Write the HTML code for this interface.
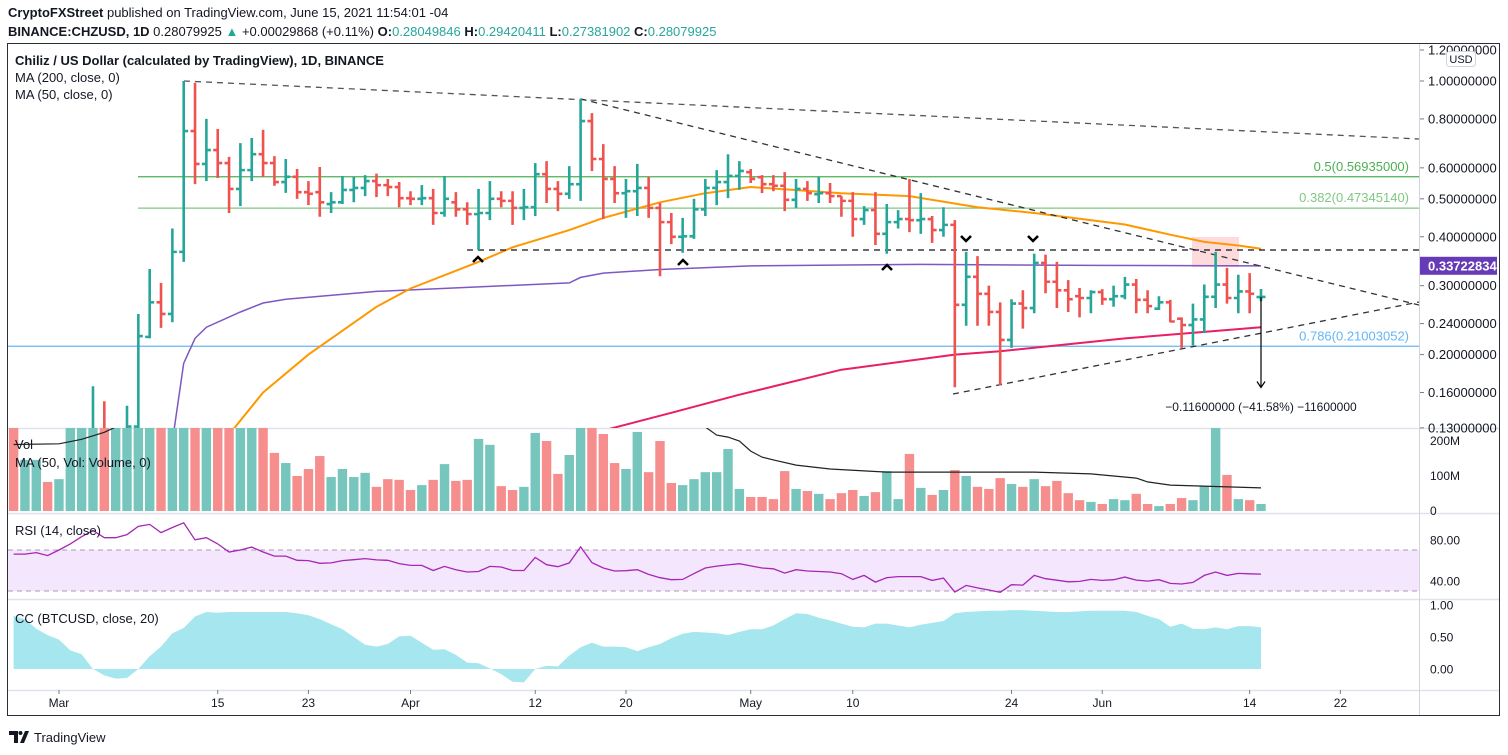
<!DOCTYPE html>
<html><head><meta charset="utf-8">
<style>
html,body{margin:0;padding:0;background:#fff;}
svg{display:block;font-family:"Liberation Sans",sans-serif;}
</style></head>
<body>
<svg id="chart" width="1508" height="755" viewBox="0 0 1508 755" xmlns="http://www.w3.org/2000/svg">
<defs>
<clipPath id="cpPrice"><rect x="8" y="44" width="1411" height="384"/></clipPath>
<clipPath id="cpVol"><rect x="8" y="428" width="1411" height="85"/></clipPath>
<clipPath id="cpRsi"><rect x="8" y="514" width="1411" height="86"/></clipPath>
<clipPath id="cpCc"><rect x="8" y="600" width="1411" height="90"/></clipPath>
</defs>
<rect x="0" y="0" width="1508" height="755" fill="#fff"/>
<text x="8" y="17" font-size="13" fill="#131722"><tspan font-weight="bold">CryptoFXStreet</tspan> published on TradingView.com, June 15, 2021 11:54:01 -04</text>
<text x="8" y="36" font-size="13" fill="#131722"><tspan font-weight="bold">BINANCE:CHZUSD, 1D</tspan> 0.28079925 <tspan fill="#26a69a">▲</tspan> +0.00029868 (+0.11%) <tspan font-weight="bold">O:</tspan><tspan fill="#26a69a">0.28049846</tspan> <tspan font-weight="bold">H:</tspan><tspan fill="#26a69a">0.29420411</tspan> <tspan font-weight="bold">L:</tspan><tspan fill="#26a69a">0.27381902</tspan> <tspan font-weight="bold">C:</tspan><tspan fill="#26a69a">0.28079925</tspan></text>
<rect x="7.5" y="43.5" width="1492" height="672" fill="none" stroke="#2a2e39" stroke-width="1"/>
<g id="grid">
<line x1="8" y1="428.5" x2="1499" y2="428.5" stroke="#e0e3eb" stroke-width="1.5"/>
<line x1="8" y1="513.5" x2="1499" y2="513.5" stroke="#e0e3eb" stroke-width="1.5"/>
<line x1="8" y1="599.5" x2="1499" y2="599.5" stroke="#e0e3eb" stroke-width="1.5"/>
<line x1="8" y1="690.5" x2="1499" y2="690.5" stroke="#e0e3eb" stroke-width="1.5"/>
<line x1="1419.5" y1="44" x2="1419.5" y2="715" stroke="#d1d4dc" stroke-width="1"/>
</g>
<g id="gPrice" clip-path="url(#cpPrice)"></g>
<g id="gVol" clip-path="url(#cpVol)"></g>
<g id="gRsi" clip-path="url(#cpRsi)"></g>
<g id="gCc" clip-path="url(#cpCc)"></g>
<g id="gAxis"></g>
<text x="15" y="65" font-size="13" font-weight="bold" fill="#131722">Chiliz / US Dollar (calculated by TradingView), 1D, BINANCE</text>
<text x="15" y="82" font-size="13" fill="#131722">MA (200, close, 0)</text>
<text x="15" y="99" font-size="13" fill="#131722">MA (50, close, 0)</text>
<text x="15" y="449" font-size="13" fill="#131722">Vol</text>
<text x="15" y="467" font-size="13" fill="#131722">MA (50, Vol: Volume, 0)</text>
<text x="15" y="535" font-size="13" fill="#131722">RSI (14, close)</text>
<text x="15" y="623" font-size="13" fill="#131722">CC (BTCUSD, close, 20)</text>
<g><rect x="1446.5" y="51.5" width="29" height="15" rx="3" fill="#fff" stroke="#d1d4dc"/><text x="1461" y="63" font-size="11" text-anchor="middle" fill="#131722">USD</text></g>
<g><path d="M9 731 h9 v12 h-4 v-8 h-5z M20 743 l5 -12 h4 l-5 12z" fill="#131722"/><circle cx="20.5" cy="733" r="2" fill="#131722"/><text x="34" y="742" font-size="13" fill="#131722">TradingView</text></g>
</svg>
<script>
// ---------- data ----------
const opens=[0.10,0.095,0.105,0.11,0.105,0.11,0.12,0.118,0.125,0.112,0.118,0.131,0.222,0.272,0.254,0.366,0.745,0.614,0.666,0.617,0.53,0.592,0.65,0.617,0.552,0.569,0.52,0.52,0.485,0.49,0.527,0.533,0.555,0.542,0.536,0.502,0.50,0.502,0.46,0.49,0.47,0.457,0.46,0.50,0.494,0.474,0.476,0.578,0.53,0.515,0.545,0.79,0.632,0.562,0.517,0.523,0.533,0.474,0.436,0.40,0.401,0.47,0.533,0.552,0.572,0.585,0.568,0.545,0.54,0.497,0.53,0.514,0.517,0.508,0.494,0.444,0.468,0.407,0.436,0.444,0.441,0.444,0.416,0.429,0.268,0.316,0.286,0.257,0.218,0.27,0.263,0.343,0.307,0.292,0.282,0.279,0.289,0.277,0.282,0.302,0.276,0.262,0.272,0.247,0.238,0.246,0.281,0.302,0.279,0.29,0.2805];
const highs=[0.105,0.11,0.115,0.115,0.12,0.125,0.128,0.166,0.152,0.125,0.148,0.254,0.331,0.305,0.42,1.0,0.99,0.80,0.754,0.64,0.694,0.715,0.75,0.643,0.632,0.596,0.555,0.603,0.52,0.572,0.569,0.575,0.58,0.562,0.552,0.523,0.542,0.53,0.572,0.52,0.49,0.53,0.555,0.523,0.523,0.53,0.617,0.624,0.555,0.606,0.90,0.828,0.69,0.606,0.562,0.614,0.569,0.488,0.46,0.447,0.50,0.562,0.592,0.65,0.624,0.596,0.575,0.575,0.585,0.562,0.555,0.569,0.549,0.508,0.52,0.479,0.52,0.485,0.468,0.562,0.517,0.452,0.476,0.441,0.366,0.357,0.30,0.272,0.277,0.292,0.362,0.36,0.345,0.31,0.296,0.292,0.294,0.30,0.316,0.312,0.292,0.282,0.276,0.249,0.27,0.302,0.366,0.333,0.32,0.323,0.2942];
const lows=[0.088,0.09,0.10,0.10,0.10,0.105,0.11,0.105,0.10,0.105,0.105,0.125,0.22,0.234,0.242,0.345,0.545,0.555,0.565,0.46,0.479,0.555,0.569,0.54,0.518,0.50,0.482,0.45,0.46,0.485,0.49,0.508,0.505,0.508,0.476,0.482,0.482,0.429,0.45,0.45,0.429,0.37,0.441,0.476,0.429,0.441,0.452,0.488,0.465,0.50,0.494,0.589,0.444,0.488,0.447,0.452,0.447,0.317,0.383,0.364,0.395,0.452,0.482,0.502,0.527,0.549,0.517,0.523,0.465,0.474,0.494,0.488,0.488,0.45,0.40,0.429,0.381,0.362,0.42,0.411,0.407,0.386,0.40,0.165,0.237,0.237,0.237,0.167,0.208,0.233,0.255,0.287,0.263,0.257,0.249,0.255,0.268,0.265,0.277,0.255,0.255,0.26,0.242,0.208,0.211,0.227,0.263,0.27,0.255,0.255,0.2738];
const closes=[0.095,0.105,0.11,0.105,0.11,0.12,0.125,0.125,0.112,0.118,0.131,0.223,0.272,0.254,0.366,0.745,0.614,0.666,0.617,0.53,0.592,0.65,0.617,0.552,0.569,0.52,0.515,0.49,0.49,0.527,0.533,0.555,0.542,0.536,0.502,0.50,0.502,0.46,0.50,0.47,0.457,0.46,0.50,0.494,0.474,0.476,0.578,0.53,0.515,0.545,0.79,0.632,0.562,0.517,0.523,0.533,0.474,0.436,0.40,0.401,0.47,0.533,0.552,0.572,0.589,0.562,0.545,0.54,0.497,0.53,0.517,0.517,0.508,0.494,0.444,0.468,0.407,0.436,0.444,0.441,0.444,0.416,0.429,0.268,0.316,0.286,0.257,0.218,0.27,0.263,0.343,0.307,0.292,0.277,0.279,0.289,0.277,0.282,0.302,0.276,0.266,0.272,0.243,0.238,0.246,0.281,0.302,0.279,0.29,0.286,0.2808];
const volumes=[260,146,146,83,91,300,350,400,300,280,300,500,450,350,400,800,700,400,350,300,300,280,260,166,137,100,120,157,97,120,97,109,69,91,89,60,74,89,134,86,89,206,189,71,60,69,223,200,106,160,400,300,220,137,120,226,111,200,80,74,91,111,111,177,63,40,40,34,114,63,57,49,34,51,60,43,54,114,34,163,66,46,60,117,100,69,63,94,77,69,91,71,86,51,31,26,20,34,31,49,20,14,20,37,31,71,237,103,34,31,20];
const ma50Idx=[19,22,26,32,35,41,44,49,52,57,61,65,73,79,85,90,98,102,105,108,110];
const ma50Val=[0.125,0.16,0.2,0.265,0.295,0.345,0.376,0.416,0.447,0.49,0.517,0.536,0.517,0.508,0.476,0.46,0.43,0.405,0.388,0.38,0.373];
const ma200Idx=[52,58,64,73,83,87,98,110];
const ma200Val=[0.128,0.142,0.158,0.183,0.2,0.204,0.22,0.235];
const purpleIdx=[14,15,16,17,20,22,24,32,49,50,52,57,65,80,95,110];
const purpleVal=[0.12,0.19,0.22,0.235,0.257,0.271,0.277,0.29,0.305,0.315,0.323,0.33,0.337,0.34,0.338,0.337];
const volMaIdx=[0,4,6,8,9,20,40,55,61,62,63,64,65,66,67,69,72,77,90,95,99,100,102,110];
const volMaVal=[190,192,205,225,240,400,420,330,240,217,211,200,171,154,146,131,120,111,111,106,94,83,74,66];
const rsiVals=[66,66,67.5,64.5,70,76,83,89,82,82,85,93,95,87,92,96.5,80,82,76,68,70,72.8,68,64,64,60,59.7,57,57.4,59.7,60.5,61.6,60.3,60,56.7,55,55,50,54,50.7,48.5,49,54,53.4,50,50,62.7,55.7,53.7,57.4,73,57.7,52.4,49.5,49.8,50.8,46.2,43,41,41.3,47,52.4,54.3,55.5,56.6,54.5,52.4,51.7,47.5,50.8,49.5,49,48.5,46.9,41.3,45.2,38.7,43,44,44,44,40.3,42.6,29,35.5,33,31,28.7,36.1,35.8,45.2,42,40.5,39,39.4,41.3,40.3,41,43.6,40.6,39.7,41,37.4,36.8,38.4,45.2,48.5,45.2,47.2,46.8,46.5];
const ccVals=[0.83,0.78,0.63,0.53,0.46,0.29,0.23,0.0,-0.1,-0.15,-0.14,0.0,0.2,0.35,0.56,0.64,0.82,0.89,0.88,0.89,0.89,0.89,0.89,0.89,0.89,0.87,0.84,0.78,0.7,0.62,0.5,0.38,0.35,0.39,0.51,0.52,0.41,0.3,0.31,0.22,0.1,0.09,0.01,-0.08,-0.2,-0.21,0.0,0.05,0.04,0.21,0.34,0.41,0.35,0.35,0.34,0.28,0.34,0.39,0.48,0.55,0.58,0.57,0.56,0.53,0.58,0.62,0.62,0.68,0.78,0.87,0.86,0.8,0.76,0.71,0.66,0.65,0.71,0.71,0.68,0.65,0.69,0.72,0.75,0.87,0.89,0.9,0.91,0.91,0.92,0.92,0.91,0.9,0.89,0.89,0.9,0.91,0.91,0.91,0.91,0.89,0.83,0.78,0.66,0.71,0.63,0.62,0.65,0.62,0.67,0.67,0.65];
const priceTicks=[1.2,1.0,0.8,0.6,0.5,0.4,0.3,0.24,0.2,0.16,0.13];
const volTicks=[200,100,0];
const volTickLabels=["200M","100M","0"];
const rsiTicks=[80,40];
const ccTicks=[1.0,0.5,0.0];
const timeLabels=["Mar","15","23","Apr","12","20","May","10","24","Jun","14","22"];
const timeIdx=[4,18,26,35,46,54,65,74,88,96,109,117];
const fibVals=[0.56935,0.4734514,0.21003052];
const fibLabels=["0.5(0.56935000)","0.382(0.47345140)","0.786(0.21003052)"];
const lastMaVal=0.33722834;
const measureFrom=0.2808, measureTo=0.1648;
// ---------- axes ----------
const NS="http://www.w3.org/2000/svg";
const xi=i=>13.6+11.34*i;
const py=p=>81-170*Math.log(p);
const vy=v=>511-0.35*v;
const ry=v=>550-(v-70)*1.025;
const cy=v=>669-64*v;
function mk(tag,attrs,parent){const e=document.createElementNS(NS,tag);for(const k in attrs)e.setAttribute(k,attrs[k]);parent.appendChild(e);return e;}
const gP=document.getElementById('gPrice'),gV=document.getElementById('gVol'),gR=document.getElementById('gRsi'),gC=document.getElementById('gCc'),gA=document.getElementById('gAxis');
const G="#26a69a",R="#ef5350";
function lineFrom(idx,val,f){return idx.map((i,k)=>(k?'L':'M')+xi(i).toFixed(1)+','+f(val[k]).toFixed(1)).join(' ');}

// fib lines
const fibCols=["#4caf50","#81c784","#64b5f6"];
const fibStart=[138,138,8];
fibVals.forEach((v,k)=>{
  const l=mk('line',{x1:fibStart[k],x2:1419,y1:py(v),y2:py(v),stroke:fibCols[k],'stroke-width':1.2},gP);
  
  
  const t=mk('text',{x:1409,y:py(v)-6,'font-size':13,'text-anchor':'end',fill:fibCols[k]},gP);
  t.textContent=fibLabels[k];
  
  
});
// pink highlight
const hl=mk('rect',{x:1192,y:237,width:47,height:30,fill:'#f23645','fill-opacity':0.18},gP);


// MAs
const pu=mk('path',{d:lineFrom(purpleIdx,purpleVal,py),fill:'none',stroke:'#7e57c2','stroke-width':1.5},gP);


const or=mk('path',{d:lineFrom(ma50Idx,ma50Val,py),fill:'none',stroke:'#ff9800','stroke-width':2},gP);


const pk=mk('path',{d:lineFrom(ma200Idx,ma200Val,py),fill:'none',stroke:'#e91e63','stroke-width':2},gP);


// trendlines
function dashed(x1,y1,x2,y2,name,col){const l=mk('line',{x1,y1,x2,y2,stroke:col,'stroke-width':1.3,'stroke-dasharray':'6 5'},gP);
  
  }
dashed(184,py(highs[15]),1419,139,'upper-trendline','#555');
dashed(xi(50),py(highs[50]),1419,305,'descending-trendline','#333');
dashed(953,394,1419,302,'ascending-trendline','#333');
dashed(467,250,1419,250,'horizontal-support-line','#111');
// bars
opens.forEach((o,i)=>{
  const x=xi(i),c=closes[i];
  const b=mk('path',{d:`M${x},${py(highs[i])}V${py(lows[i])}M${x-4.5},${py(o)}H${x}M${x},${py(c)}H${x+4.5}`,stroke:c>=o?G:R,'stroke-width':2.6,fill:'none'},gP);
  
  
});
// chevrons
[[478,259,1],[683,262,1],[887,267,1],[966,239,0],[1033,239,0]].forEach(c=>{
  const [x,y,up]=c;
  const d=up?`M${x-5},${y+3}L${x},${y-2}L${x+5},${y+3}`:`M${x-5},${y-3}L${x},${y+2}L${x+5},${y-3}`;
  const p=mk('path',{d,stroke:'#000','stroke-width':2.5,fill:'none'},gP);
  
  
});
// measure arrow
const ax=xi(110);
const ar=mk('path',{d:`M${ax},${py(measureFrom)}V${py(measureTo)}M${ax-4},${py(measureTo)-6}L${ax},${py(measureTo)}L${ax+4},${py(measureTo)-6}`,stroke:'#000','stroke-width':1.2,fill:'none'},gP);


const mt=mk('text',{x:ax,y:411,'font-size':12,'text-anchor':'middle',fill:'#131722'},gP);
mt.textContent='−0.11600000 (−41.58%) −11600000';


// volume
volumes.forEach((v,i)=>{
  const r=mk('rect',{x:xi(i)-4.7,y:vy(v),width:9.4,height:511-vy(v),fill:closes[i]>=opens[i]?'#76c6bd':'#f68e8e'},gV);
  
  
});
const vm=mk('path',{d:lineFrom(volMaIdx,volMaVal,vy),fill:'none',stroke:'#222','stroke-width':1.2},gV);


// RSI
const band=mk('rect',{x:8,y:ry(70),width:1411,height:ry(30)-ry(70),fill:'#f3e6fd'},gR);


[70,30].forEach(v=>{const l=mk('line',{x1:8,x2:1419,y1:ry(v),y2:ry(v),stroke:'#a89bb0','stroke-dasharray':'5 4','stroke-width':1},gR);
  
  });
const rl=mk('path',{d:rsiVals.map((v,i)=>(i?'L':'M')+xi(i).toFixed(1)+','+ry(v).toFixed(1)).join(''),fill:'none',stroke:'#a626b5','stroke-width':1.3},gR);


// CC
const ccPath='M'+xi(0)+','+cy(0)+ccVals.map((v,i)=>'L'+xi(i).toFixed(1)+','+cy(v).toFixed(1)).join('')+'L'+xi(ccVals.length-1)+','+cy(0)+'Z';
const cca=mk('path',{d:ccPath,fill:'#a6e6ee'},gC);


// price axis
priceTicks.forEach(p=>{
  const y=py(p);
  const tk=mk('line',{x1:1420,x2:1424,y1:y,y2:y,stroke:'#787b86'},gA);
  
  
  const t=mk('text',{x:1428,y:y+4.5,'font-size':13,fill:'#131722'},gA);
  t.textContent=p.toFixed(8);
  
  
});
const lb=mk('rect',{x:1420,y:py(lastMaVal)-9,width:77,height:18,fill:'#673ab7'},gA);


const lt=mk('text',{x:1428,y:py(lastMaVal)+4.5,'font-size':13,'font-weight':'bold',fill:'#fff'},gA);
lt.textContent=lastMaVal.toFixed(8);


volTicks.forEach((v,k)=>{
  const t=mk('text',{x:1430,y:vy(v)+4,'font-size':12,fill:'#131722'},gA);
  t.textContent=volTickLabels[k];
  
  
});
rsiTicks.forEach(v=>{
  const t=mk('text',{x:1430,y:ry(v)+4.5,'font-size':12,fill:'#131722'},gA);
  t.textContent=v.toFixed(2);
  
  
});
ccTicks.forEach(v=>{
  const t=mk('text',{x:1430,y:cy(v)+4.5,'font-size':12,fill:'#131722'},gA);
  t.textContent=v.toFixed(2);
  
  
});
timeLabels.forEach((s,k)=>{
  const x=xi(timeIdx[k]);
  const tk=mk('line',{x1:x,x2:x,y1:690,y2:694,stroke:'#787b86'},gA);
  
  
  const t=mk('text',{x:x,y:707,'font-size':12,'text-anchor':'middle',fill:'#131722'},gA);
  t.textContent=s;
  
  
});
</script>
</body></html>
